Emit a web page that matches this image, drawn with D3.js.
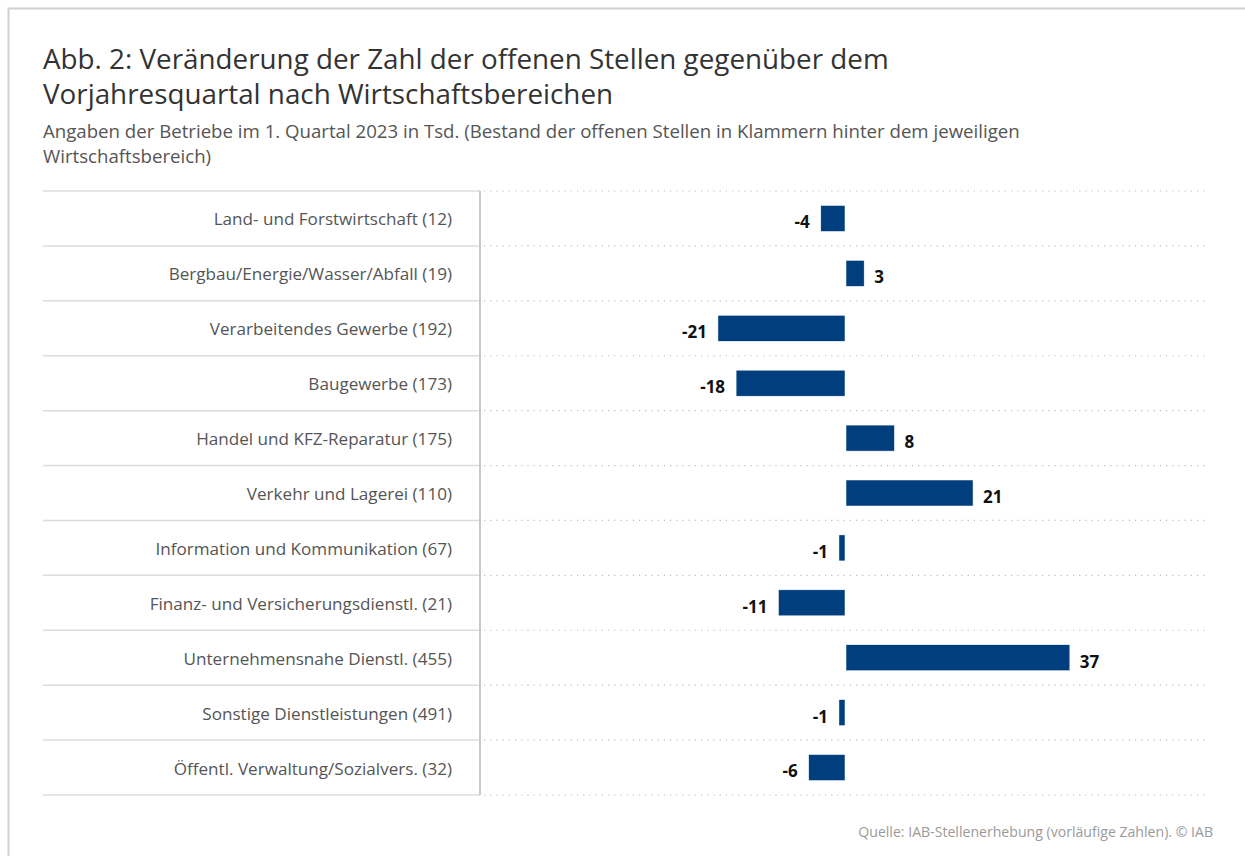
<!DOCTYPE html>
<html><head><meta charset="utf-8">
<script src="https://cdn.jsdelivr.net/npm/d3@7"></script>
<style>
html,body{margin:0;padding:0;background:#fff;}
svg text{font-family:"Open Sans","Noto Sans",sans-serif;}
</style></head>
<body>
<svg id="chart" width="1245" height="856"></svg>
<script>
const categories = [
  "Land- und Forstwirtschaft (12)",
  "Bergbau/Energie/Wasser/Abfall (19)",
  "Verarbeitendes Gewerbe (192)",
  "Baugewerbe (173)",
  "Handel und KFZ-Reparatur (175)",
  "Verkehr und Lagerei (110)",
  "Information und Kommunikation (67)",
  "Finanz- und Versicherungsdienstl. (21)",
  "Unternehmensnahe Dienstl. (455)",
  "Sonstige Dienstleistungen (491)",
  "Öffentl. Verwaltung/Sozialvers. (32)"
];
const values = [-4, 3, -21, -18, 8, 21, -1, -11, 37, -1, -6];
const titleLines = [
  "Abb. 2: Veränderung der Zahl der offenen Stellen gegenüber dem",
  "Vorjahresquartal nach Wirtschaftsbereichen"
];
const subtitleLines = [
  "Angaben der Betriebe im 1. Quartal 2023 in Tsd. (Bestand der offenen Stellen in Klammern hinter dem jeweiligen",
  "Wirtschaftsbereich)"
];
const sourceText = "Quelle: IAB-Stellenerhebung (vorläufige Zahlen). © IAB";

(function () {
const svg = d3.select("#chart");
const W = 1245, H = 856;

svg.append("rect").attr("x", 8.5).attr("y", 8.5).attr("width", W).attr("height", H)
  .attr("fill", "none").attr("stroke", "#d0d0d0").attr("stroke-width", 2);

svg.append("g").selectAll("text").data(titleLines).join("text")
  .attr("x", 43).attr("y", (d, i) => 69 + i * 35)
  .attr("font-size", 27.8).attr("fill", "#333").text(d => d);
svg.append("g").selectAll("text").data(subtitleLines).join("text")
  .attr("x", 43).attr("y", (d, i) => 138 + i * 25)
  .attr("font-size", 18.65).attr("fill", "#555").text(d => d);

const plotTop = 191, plotBottom = 795;
const labelLeft = 43, divider = 480, plotLeft = 482, plotRight = 1208;

const y = d3.scaleBand().domain(categories).range([plotTop, plotBottom]).paddingInner(0).paddingOuter(0);
const x = d3.scaleLinear().domain([-60, 60]).range([plotLeft, plotRight]);

const seps = d3.range(categories.length + 1).map(i => plotTop + i * y.step());
svg.append("g").selectAll("line").data(seps).join("line")
  .attr("x1", labelLeft).attr("x2", divider)
  .attr("y1", d => d).attr("y2", d => d)
  .attr("stroke", "#dcdcdc").attr("stroke-width", 1.5);
svg.append("g").selectAll("line").data(seps).join("line")
  .attr("x1", plotLeft + 2).attr("x2", plotRight)
  .attr("y1", d => d).attr("y2", d => d)
  .attr("stroke", "#bdbdbd").attr("stroke-width", 1.2)
  .attr("stroke-dasharray", "1.2,5");
svg.append("line").attr("x1", divider).attr("x2", divider)
  .attr("y1", plotTop).attr("y2", plotBottom).attr("stroke", "#c8c8c8").attr("stroke-width", 2);

svg.append("g").selectAll("text").data(categories).join("text")
  .attr("x", 452).attr("y", d => y(d) + y.bandwidth() / 2 + 1)
  .attr("dy", "0.35em").attr("text-anchor", "end")
  .attr("font-size", 17.1).attr("fill", "#555").text(d => d);

const barH = 26;
const data = categories.map((c, i) => ({c, v: values[i]}));
svg.append("g").selectAll("rect").data(data).join("rect")
  .attr("x", d => d.v >= 0 ? x(0) + 1 : x(d.v))
  .attr("width", d => Math.abs(x(d.v) - x(0)))
  .attr("y", d => y(d.c) + (y.bandwidth() - barH) / 2)
  .attr("height", barH)
  .attr("fill", "#003e7e")
  .attr("stroke", "#ffffff").attr("stroke-width", 0.5);

svg.append("g").selectAll("text").data(data).join("text")
  .attr("x", d => d.v >= 0 ? x(d.v) + 11 : x(d.v) - 11)
  .attr("y", d => y(d.c) + y.bandwidth() / 2 + 4)
  .attr("dy", "0.35em")
  .attr("text-anchor", d => d.v >= 0 ? "start" : "end")
  .attr("font-size", 17).attr("font-weight", "bold").attr("fill", "#111")
  .text(d => d.v);

svg.append("text").attr("x", 1213).attr("y", 837).attr("text-anchor", "end")
  .attr("font-size", 14.1).attr("fill", "#9a9a9a").text(sourceText);
})();
</script>
</body></html>
